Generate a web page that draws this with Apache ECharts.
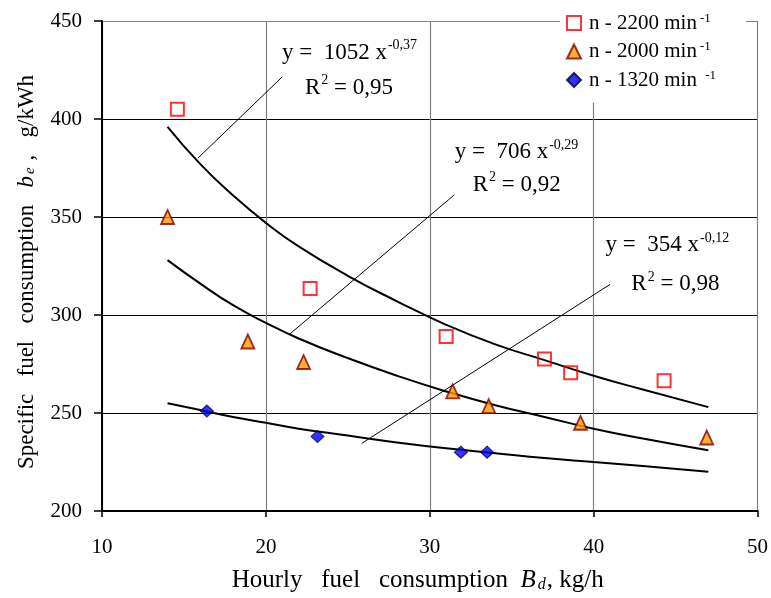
<!DOCTYPE html>
<html><head><meta charset="utf-8">
<script src="https://cdn.jsdelivr.net/npm/echarts@6/dist/echarts.min.js"></script>
<style>html,body{margin:0;padding:0;background:#fff}#c{width:771px;height:598px}</style>
</head><body><div id="c"></div>
<script>
// ---- data ----
const xTicks = [10, 20, 30, 40, 50];
const yTicks = [200, 250, 300, 350, 400, 450];
const seriesNames = ['n - 2200 min', 'n - 2000 min', 'n - 1320 min '];
const x2200 = [14.6, 22.7, 31.0, 37.0, 38.6, 44.3];
const y2200 = [405, 313.5, 289, 277.5, 270.5, 266.5];
const x2000 = [14.0, 18.9, 22.3, 31.4, 33.6, 39.2, 46.9];
const y2000 = [350, 286.5, 276, 261, 253.5, 245, 237.5];
const x1320 = [16.4, 23.15, 31.9, 33.5];
const y1320 = [251, 238, 230, 230];
const trendX    = [14, 16, 18, 20, 22, 25, 28, 31, 34, 37, 40, 43, 47];
const trend2200 = [396, 377, 361, 347, 335, 320, 307, 295, 285, 277, 269, 262, 253];
const trend2000 = [328, 316, 305, 296, 288, 278, 269, 261, 254, 248, 242, 237, 231];
const trend1320 = [255, 251.5, 248, 245, 242, 238.5, 235, 232, 229.5, 227, 225, 223, 220];
const eqMain = ['y =  1052 x', 'y =  706 x', 'y =  354 x'];
const eqExp  = ['-0,37', '-0,29', '-0,12'];
const eqR2   = ['0,95', '0,92', '0,98'];
// leader lines (data coords): from curve to label
const leadX = [[15.85, 21.0], [21.46, 31.5], [25.85, 41.0]];
const leadY = [[380, 421.5], [290.3, 361.3], [234.5, 315.6]];
// label anchors (data coords, left edge)
const eqAnchorX = [[20.98, 22.38], [31.52, 32.62], [40.73, 42.3]];
const eqAnchorY = [[433.8, 416], [383, 366.5], [335.5, 315.6]];

const FONT = '"Liberation Serif", "Times New Roman", serif';
const zip = (a, b) => a.map((v, i) => [v, b[i]]);

const chart = echarts.init(document.getElementById('c'), null, {renderer: 'canvas'});

const lineSeries = (data) => ({
  type: 'line', data: data, smooth: true, showSymbol: false, silent: true,
  lineStyle: {color: '#000', width: 2}, z: 2
});
const leadSeries = (i) => ({
  type: 'line', data: zip(leadX[i], leadY[i]), showSymbol: false, silent: true,
  lineStyle: {color: '#000', width: 1}, z: 2
});
const mkRich = (fs) => ({
  a: {fontSize: fs, fontFamily: FONT, color: '#000'},
  i: {fontSize: fs, fontFamily: FONT, fontStyle: 'italic', color: '#000'},
  s: {fontSize: Math.round(fs * 0.65), fontFamily: FONT, fontStyle: 'italic', color: '#000', verticalAlign: 'bottom', padding: [0, 1, 0, 2]}
});

chart.setOption({
  animation: false,
  backgroundColor: '#fff',
  textStyle: {fontFamily: FONT},
  grid: {left: 102, top: 21, right: 13, bottom: 84, containLabel: false},
  xAxis: {
    type: 'value', min: xTicks[0], max: xTicks[xTicks.length - 1], interval: 10,
    axisLine: {lineStyle: {color: '#000', width: 2}},
    axisTick: {show: true, length: 6, lineStyle: {color: '#000', width: 1.5}},
    axisLabel: {color: '#000', fontSize: 21, fontFamily: FONT, margin: 26},
    splitLine: {show: true, lineStyle: {color: '#808080', width: 1.2}},
    name: '{a|Hourly   fuel   consumption  }{i|B}{s|d}{a|, kg/h}',
    nameLocation: 'middle', nameGap: 57,
    nameTextStyle: {color: '#000', fontFamily: FONT, fontSize: 25, padding: [0, 24, 0, 0], rich: mkRich(25)}
  },
  yAxis: {
    type: 'value', min: yTicks[0], max: yTicks[yTicks.length - 1], interval: 50,
    axisLine: {lineStyle: {color: '#000', width: 2}},
    axisTick: {show: true, length: 8, lineStyle: {color: '#000', width: 1.5}},
    axisLabel: {color: '#000', fontSize: 21, fontFamily: FONT, margin: 20},
    splitLine: {show: true, lineStyle: {color: ['#000', '#000', '#000', '#000', '#000', '#808080'], width: 1}},
    name: '{a|Specific   fuel   consumption   }{i|b}{s|e}{a| ,   g/kWh}',
    nameLocation: 'middle', nameGap: 64, nameRotate: 90,
    nameTextStyle: {color: '#000', fontFamily: FONT, fontSize: 23, padding: [0, 12, 0, 0], rich: mkRich(23)}
  },
  legend: {
    orient: 'vertical', left: 560, top: 6,
    itemWidth: 14, itemHeight: 14, itemGap: 7,
    backgroundColor: '#fff', padding: [6, 30, 12, 6],
    data: seriesNames,
    formatter: (n) => '{t|' + n + '}{u|-1}',
    textStyle: {
      color: '#000', fontFamily: FONT, fontSize: 21,
      rich: {
        t: {fontSize: 21, fontFamily: FONT, color: '#000', lineHeight: 22, padding: [0, 0, 0, 3]},
        u: {fontSize: 13, fontFamily: FONT, color: '#000', verticalAlign: 'top', padding: [0, 0, 8, 3]}
      }
    },
    z: 10
  },
  series: [
    lineSeries(zip(trendX, trend2200)),
    lineSeries(zip(trendX, trend2000)),
    lineSeries(zip(trendX, trend1320)),
    leadSeries(0), leadSeries(1), leadSeries(2),
    {
      name: seriesNames[0], type: 'scatter', data: zip(x2200, y2200),
      symbol: 'rect', symbolSize: 13, z: 5,
      itemStyle: {color: 'rgba(255,255,255,0)', borderColor: '#FF0000', borderWidth: 2}
    },
    {
      name: seriesNames[1], type: 'scatter', data: zip(x2000, y2000),
      symbol: 'triangle', symbolSize: [13, 14], z: 5,
      itemStyle: {color: '#FF9900', borderColor: '#800000', borderWidth: 1.8}
    },
    {
      name: seriesNames[2], type: 'scatter', data: zip(x1320, y1320),
      symbol: 'diamond', symbolSize: [13, 12], z: 5,
      itemStyle: {color: '#0000FF', borderColor: '#000033', borderWidth: 1}
    }
  ]
});

// equation annotations anchored to data coordinates
const graphics = [];
const rich = {
  m: {fontSize: 23, fontFamily: FONT, color: '#000', lineHeight: 28},
  e: {fontSize: 14, fontFamily: FONT, color: '#000', verticalAlign: 'top', padding: [0, 0, 0, 1], lineHeight: 14}
};
for (let i = 0; i < 3; i++) {
  const p1 = chart.convertToPixel({gridIndex: 0}, [eqAnchorX[i][0], eqAnchorY[i][0]]);
  const p2 = chart.convertToPixel({gridIndex: 0}, [eqAnchorX[i][1], eqAnchorY[i][1]]);
  graphics.push({
    type: 'text', x: p1[0], y: p1[1], z: 20,
    style: {text: '{m|' + eqMain[i] + '}{e|' + eqExp[i] + '}', rich: rich, verticalAlign: 'middle', align: 'left'}
  });
  graphics.push({
    type: 'text', x: p2[0], y: p2[1], z: 20,
    style: {text: '{m|R}{e|2}{m| = ' + eqR2[i] + '}', rich: rich, verticalAlign: 'middle', align: 'left'}
  });
}
chart.setOption({graphic: graphics});
</script>
</body></html>
